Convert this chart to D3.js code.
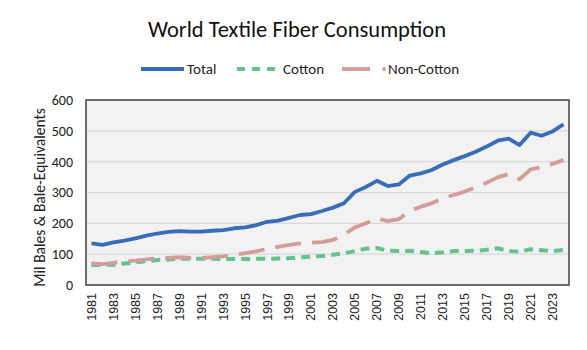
<!DOCTYPE html>
<html>
<head>
  <meta charset="utf-8">
  <script src="https://d3js.org/d3.v7.min.js"></script>
  <style>
    body { margin: 0; background: #fff; }
    text { font-family: Calibri, Carlito, "Open Sans", "Noto Sans", sans-serif; }
  </style>
</head>
<body>
  <script>
    var years = d3.range(1981, 2025).map(String);
    var total = [135, 130, 138, 144, 151, 160, 167, 172, 175, 173, 173, 176, 178, 184, 187, 194, 205, 209, 218,
      227, 230, 240, 251, 265, 302, 318, 338, 321, 326, 355, 362, 373, 391, 405, 418, 432, 449, 468, 475,
      454, 494, 484, 498, 521];
    var cotton = [65, 65, 66, 70, 73, 77, 81, 83, 85, 85, 85, 85, 84, 84, 84, 85, 85, 86, 87,
      90, 92, 94, 98, 103, 110, 118, 120, 111, 110, 111, 107, 103, 106, 110, 110, 111, 114, 119, 110,
      108, 116, 113, 110, 114];
    var nonCotton = [70, 68, 72, 77, 79, 83, 86, 88, 90, 88, 88, 90, 93, 98, 103, 109, 117, 124, 130,
      135, 137, 139, 146, 163, 187, 200, 216, 207, 214, 240, 254, 265, 281, 292, 303, 317, 332, 349, 360,
      343, 375, 382, 393, 405];
    var yTicks = [0, 100, 200, 300, 400, 500, 600];

    var series = [
      {name: 'Total', values: total, color: '#3a6db7', dash: null, width: 3.8},
      {name: 'Cotton', values: cotton, color: '#62c38e', dash: '9,6', width: 4},
      {name: 'Non-Cotton', values: nonCotton, color: '#d49b9b', dash: '26,11', width: 3.8}
    ];

    var w = 587, h = 350;
    var margin = {top: 100, right: 18, bottom: 65, left: 86};
    var innerW = w - margin.left - margin.right,
      innerH = h - margin.top - margin.bottom;

    var svg = d3.select('body').append('svg')
      .attr('width', w)
      .attr('height', h);

    svg.append('text')
      .attr('x', 297).attr('y', 37)
      .attr('text-anchor', 'middle')
      .attr('font-size', 22.5)
      .attr('fill', '#111')
      .text('World Textile Fiber Consumption');

    var x = d3.scaleBand().domain(years).range([0, innerW]);
    var y = d3.scaleLinear().domain([0, 600]).range([innerH, 0]);

    var g = svg.append('g')
      .attr('transform', 'translate(' + [margin.left, margin.top] + ')');

    g.append('rect')
      .attr('width', innerW).attr('height', innerH)
      .attr('fill', '#f2f2f2');

    g.selectAll('.grid')
      .data(yTicks.slice(1, -1))
      .enter().append('line')
      .attr('class', 'grid')
      .attr('x1', 0).attr('x2', innerW)
      .attr('y1', d => y(d)).attr('y2', d => y(d))
      .attr('stroke', '#d9d9d9').attr('stroke-width', 1.2);

    var line = d3.line()
      .x((d, i) => x(years[i]) + x.bandwidth() / 2)
      .y(d => y(d));

    // cotton first, then non-cotton, total on top
    [series[1], series[2], series[0]].forEach(function(s) {
      g.append('path')
        .datum(s.values)
        .attr('d', line)
        .attr('fill', 'none')
        .attr('stroke', s.color)
        .attr('stroke-width', s.width)
        .attr('stroke-linejoin', 'round')
        .attr('stroke-dasharray', s.dash);
    });

    g.append('rect')
      .attr('width', innerW).attr('height', innerH)
      .attr('fill', 'none')
      .attr('stroke', '#404040').attr('stroke-width', 1.5);

    var yAxis = g.append('g')
      .call(d3.axisLeft(y).tickValues(yTicks).tickSize(0).tickPadding(13));
    yAxis.select('.domain').remove();
    yAxis.selectAll('text').attr('font-size', 14).attr('fill', '#222')
      .style('font-family', 'Calibri, Carlito, "Open Sans", sans-serif');

    var xAxis = g.append('g')
      .attr('transform', 'translate(0,' + innerH + ')')
      .call(d3.axisBottom(x).tickValues(years.filter((d, i) => i % 2 === 0)).tickSize(0));
    xAxis.select('.domain').remove();
    xAxis.selectAll('text')
      .attr('font-size', 12.5).attr('fill', '#222')
      .attr('transform', 'rotate(-90)')
      .attr('text-anchor', 'end')
      .attr('dy', '0.35em')
      .attr('x', -8).attr('y', 0)
      .style('font-family', '"Liberation Sans", Arial, sans-serif');

    svg.append('text')
      .attr('transform', 'translate(40,197.5) rotate(-90)')
      .attr('text-anchor', 'middle')
      .attr('dy', '0.35em')
      .attr('font-size', 15.5)
      .attr('fill', '#222')
      .text('Mil Bales & Bale-Equivalents');

    // legend
    var lg = svg.append('g').attr('transform', 'translate(0,69)');
    lg.append('line').attr('x1', 141).attr('x2', 184).attr('y1', 0).attr('y2', 0)
      .attr('stroke', series[0].color).attr('stroke-width', 3.8);
    lg.append('text').attr('x', 187).attr('y', 5).attr('font-size', 15).attr('fill', '#222').text('Total');
    lg.append('line').attr('x1', 237).attr('x2', 275).attr('y1', 0).attr('y2', 0)
      .attr('stroke', series[1].color).attr('stroke-width', 4).attr('stroke-dasharray', '8,7');
    lg.append('text').attr('x', 283).attr('y', 5).attr('font-size', 15).attr('fill', '#222').text('Cotton');
    lg.append('line').attr('x1', 342).attr('x2', 370).attr('y1', 0).attr('y2', 0)
      .attr('stroke', series[2].color).attr('stroke-width', 3.8);
    lg.append('circle').attr('cx', 384).attr('cy', 0).attr('r', 1.9).attr('fill', series[2].color);
    lg.append('text').attr('x', 388).attr('y', 5).attr('font-size', 15).attr('fill', '#222').text('Non-Cotton');
  </script>
</body>
</html>
